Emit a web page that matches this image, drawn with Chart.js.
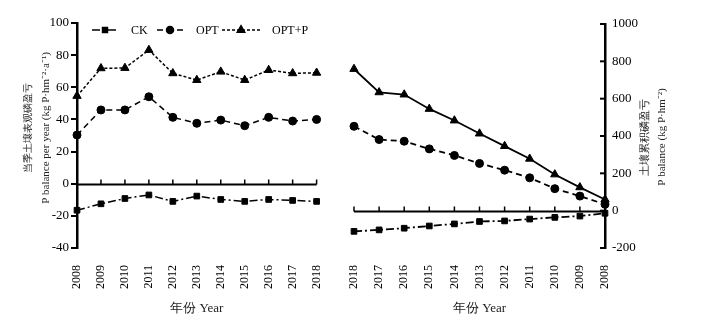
<!DOCTYPE html>
<html><head><meta charset="utf-8">
<script src="https://cdn.jsdelivr.net/npm/chart.js@4"></script>
<style>
html,body{margin:0;padding:0;background:#fff;width:702px;height:329px;overflow:hidden;}
#w1{position:absolute;left:0;top:0;width:340px;height:329px;}
#w2{position:absolute;left:340px;top:0;width:362px;height:329px;}
</style></head><body>
<div id="w1"><canvas id="c1"></canvas></div>
<div id="w2"><canvas id="c2"></canvas></div>
<script>
// Annual P balance (left panel)
const yearsLeft = ['2008','2009','2010','2011','2012','2013','2014','2015','2016','2017','2018'];
const ckAnnual    = [-16.5,-12.5,-9.2,-7,-11,-7.7,-9.8,-11,-9.8,-10.4,-11];
const optAnnual   = [30.3,45.9,45.9,54.1,41.3,37.6,39.6,36.1,41.3,39,40];
const optpAnnual  = [54.6,71.8,72,83.2,68.7,64.5,69.7,64.5,70.7,68.7,69];
const leftTicks = [-40,-20,0,20,40,60,80,100];
// Cumulative P balance (right panel, years descending)
const yearsRight = ['2018','2017','2016','2015','2014','2013','2012','2011','2010','2009','2008'];
const ckCum   = [-111,-103,-94,-82,-71,-58,-55,-45,-36,-29,-14];
const optCum  = [452,381,372,331,296,253,217,176,118,78,34];
const optpCum = [759,634,622,545,483,413,346,278,194,125,60];
const rightTicks = [-200,0,200,400,600,800,1000];
const seriesNames = ['CK','OPT','OPT+P'];
const leftTitle = ['当季土壤表观磷盈亏','P balance per year (kg P·hm⁻²·a⁻¹)'];
const rightTitle = ['土壤累积磷盈亏','P balance (kg P·hm⁻²)'];
const xTitle = '年份 Year';

const FONT = '"Liberation Serif", "Times New Roman", serif';
Chart.defaults.font.family = FONT;
Chart.defaults.color = '#000';
Chart.defaults.animation = false;

const styles = [
  {pointStyle:'rect', pointRadius:4, borderDash:[8,3,2,3]},
  {pointStyle:'circle', pointRadius:4, borderDash:[6,4]},
  {pointStyle:'triangle', pointRadius:4.8, borderDash:[3,2]}
];
function ds(label, data, st, dashOverride, bw){
  return {label, data, borderColor:'#000', backgroundColor:'#000', pointBackgroundColor:'#000',
    pointBorderColor:'#000', pointBorderWidth:1, borderWidth:bw||1.5, pointStyle:st.pointStyle, pointRadius:st.pointRadius,
    borderDash: dashOverride!==undefined?dashOverride:st.borderDash, tension:0, clip:false};
}

// zero line with upward ticks
const zeroAxis = {
  id:'zeroAxis',
  afterDatasetsDraw(chart){
    const ctx=chart.ctx, x=chart.scales.x, y=chart.scales.y;
    const py=Math.round(y.getPixelForValue(0))+0.5;
    ctx.save(); ctx.strokeStyle='#000'; ctx.lineWidth=2;
    ctx.beginPath(); ctx.moveTo(x.left,py); ctx.lineTo(x.right,py); ctx.stroke();
    ctx.lineWidth=1.5;
    x.ticks.forEach((t,i)=>{const px=x.getPixelForTick(i); ctx.beginPath(); ctx.moveTo(px,py); ctx.lineTo(px,py-5); ctx.stroke();});
    ctx.restore();
  }
};
function drawVTitle(ctx, lines, xs, cy, sizes){
  ctx.save(); ctx.fillStyle='#222'; ctx.textAlign='center'; ctx.textBaseline='middle';
  lines.forEach((l,i)=>{ctx.save(); ctx.font=sizes[i]+'px '+FONT; ctx.translate(xs[i],cy); ctx.rotate(-Math.PI/2); ctx.fillText(l,0,0); ctx.restore();});
  ctx.restore();
}
const legendPlugin = {
  id:'customLegend',
  afterDraw(chart){
    const ctx=chart.ctx; const yy=30;
    const items=[{x1:92,x2:118,tx:131},{x1:157,x2:183,tx:196},{x1:222,x2:260,tx:272}];
    chart.data.datasets.forEach((d,i)=>{
      const it=items[i];
      ctx.save(); ctx.strokeStyle='#000'; ctx.fillStyle='#000'; ctx.lineWidth=1.5; ctx.setLineDash(d.borderDash||[]);
      ctx.beginPath(); ctx.moveTo(it.x1,yy); ctx.lineTo(it.x2,yy); ctx.stroke(); ctx.setLineDash([]);
      Chart.helpers.drawPoint(ctx,{pointStyle:d.pointStyle,radius:d.pointRadius-0.5,borderWidth:1},(it.x1+it.x2)/2,yy);
      ctx.font='12px '+FONT; ctx.textBaseline='middle'; ctx.fillText(d.label,it.tx,yy+1);
      ctx.restore();
    });
    drawVTitle(ctx, leftTitle, [28,46], 128, [10,11]);
  }
};
function xScale(){
  return {offset:false, grid:{display:false}, border:{display:false},
    ticks:{minRotation:90,maxRotation:90,font:{size:12},padding:9,autoSkip:false},
    title:{display:true,text:xTitle,font:{size:13, family:FONT},color:'#222',padding:{top:4,bottom:0}},
    afterFit(s){s.height=68;}};
}

new Chart(document.getElementById('c1'),{
  type:'line',
  data:{labels:yearsLeft, datasets:[
    ds(seriesNames[0], ckAnnual, styles[0]),
    ds(seriesNames[1], optAnnual, styles[1]),
    ds(seriesNames[2], optpAnnual, styles[2])
  ]},
  options:{
    responsive:true, maintainAspectRatio:false,
    layout:{padding:{top:23,right:22,left:0,bottom:13}},
    plugins:{legend:{display:false}, tooltip:{enabled:false}},
    scales:{
      x:xScale(),
      y:{min:-40,max:100, afterBuildTicks(s){s.ticks=leftTicks.map(v=>({value:v}));},
        grid:{drawOnChartArea:false,tickLength:6,color:'#000',lineWidth:2},
        border:{display:true,color:'#000',width:2.5},
        ticks:{font:{size:13},padding:2},
        afterFit(s){s.width=77;}}
    }
  },
  plugins:[zeroAxis, legendPlugin]
});

new Chart(document.getElementById('c2'),{
  type:'line',
  data:{labels:yearsRight, datasets:[
    ds(seriesNames[0], ckCum, styles[0], undefined, 1.8),
    ds(seriesNames[1], optCum, styles[1], undefined, 1.8),
    ds(seriesNames[2], optpCum, styles[2], [], 1.8)
  ]},
  options:{
    responsive:true, maintainAspectRatio:false,
    layout:{padding:{top:24,right:0,left:14,bottom:13}},
    plugins:{legend:{display:false}, tooltip:{enabled:false}},
    scales:{
      x:xScale(),
      y:{position:'right', min:-200,max:1000, afterBuildTicks(s){s.ticks=rightTicks.map(v=>({value:v}));},
        grid:{drawOnChartArea:false,drawTicks:false,color:'#000'},
        border:{display:true,color:'#000',width:2.5},
        ticks:{font:{size:13},padding:7,callback:(v)=>String(v)},
        afterFit(s){s.width=97;}}
    }
  },
  plugins:[zeroAxis,{
    id:'inTicks',
    afterDraw(chart){
      const ctx=chart.ctx,y=chart.scales.y; const px=y.left;
      ctx.save(); ctx.strokeStyle='#000'; ctx.lineWidth=2;
      y.ticks.forEach((t,i)=>{const py=y.getPixelForTick(i); ctx.beginPath(); ctx.moveTo(px,py); ctx.lineTo(px-5,py); ctx.stroke();});
      ctx.restore();
      drawVTitle(ctx, rightTitle, [305,322], 137, [11,11]);
    }
  }]
});
</script>
</body></html>
